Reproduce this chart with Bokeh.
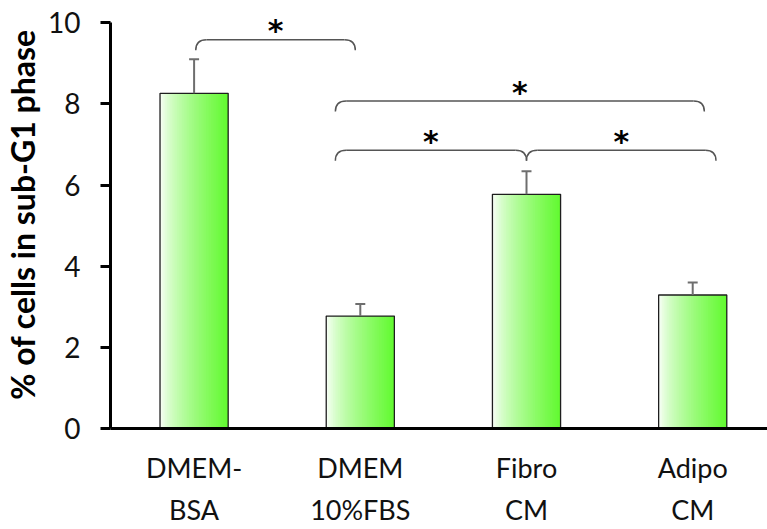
import numpy as np
from bokeh.plotting import figure
from bokeh.models import Range1d, FixedTicker
from bokeh.embed import file_html
from bokeh.resources import INLINE
from bokeh.core.properties import value

# ---- data ----
categories = ["DMEM-\nBSA", "DMEM\n10%FBS", "Fibro\nCM", "Adipo\nCM"]
means = [8.26, 2.77, 5.77, 3.29]
errors = [0.84, 0.30, 0.57, 0.31]
y_ticks = [0, 2, 4, 6, 8, 10]

# significance brackets (x in category units, y in data units)
br_x0 = [0.01, 0.85, 0.85, 2.0]
br_x1 = [0.97, 3.07, 2.0, 3.14]
br_y = [9.58, 8.07, 6.86, 6.86]
br_label = ["*", "*", "*", "*"]

# ---- styling constants ----
FONT = "Lato"
BAR_W = 0.41
N_SLICES = 40
LEFT_RGB = np.array([255, 255, 255])
RIGHT_RGB = np.array([98, 250, 48])
CAP_HALF = 0.03
BR_DROP = 0.26
BR_RX = 0.065
BR_COLOR = "#555555"

p = figure(width=767, height=529,
           x_range=Range1d(-0.503, 3.45), y_range=Range1d(0, 10.548),
           output_backend="svg", toolbar_location=None,
           min_border_left=107, min_border_right=0,
           min_border_top=0, min_border_bottom=86)
p.outline_line_color = None
p.xgrid.visible = False
p.ygrid.visible = False
p.background_fill_color = "white"
p.border_fill_color = "white"

# ---- gradient bars ----
xs = np.arange(len(means))
l, r, t, b, c = [], [], [], [], []
sw = BAR_W / N_SLICES
for i, m in enumerate(means):
    x_left = xs[i] - BAR_W / 2
    for k in range(N_SLICES):
        fm = ((k + 0.5) / N_SLICES) ** 0.7
        rgb = (LEFT_RGB + (RIGHT_RGB - LEFT_RGB) * fm).astype(int)
        l.append(x_left + sw * k)
        r.append(min(x_left + sw * (k + 1.8), x_left + BAR_W))
        t.append(m)
        b.append(0)
        c.append("#%02x%02x%02x" % tuple(rgb))
p.quad(left=l, right=r, top=t, bottom=b, fill_color=c, line_color=None)
p.vbar(x=xs, top=means, width=BAR_W, bottom=0, fill_color=None,
       line_color="#1e1e1e", line_width=1.3)

# ---- error bars (upper only) ----
tops = [m + e for m, e in zip(means, errors)]
p.segment(x0=xs, y0=means, x1=xs, y1=tops, line_color="#6e6e6e", line_width=2)
p.segment(x0=xs - CAP_HALF, y0=tops, x1=xs + CAP_HALF, y1=tops,
          line_color="#6e6e6e", line_width=2)

# ---- brackets ----
for x0, x1, y in zip(br_x0, br_x1, br_y):
    p.quadratic(x0=[x0], y0=[y - BR_DROP], x1=[x0 + BR_RX], y1=[y],
                cx=[x0], cy=[y], line_color=BR_COLOR, line_width=1.5)
    p.segment(x0=[x0 + BR_RX], y0=[y], x1=[x1 - BR_RX], y1=[y],
              line_color=BR_COLOR, line_width=1.5)
    p.quadratic(x0=[x1 - BR_RX], y0=[y], x1=[x1], y1=[y - BR_DROP],
                cx=[x1], cy=[y], line_color=BR_COLOR, line_width=1.5)

star_x = [(a + bb) / 2 for a, bb in zip(br_x0, br_x1)]
star_y = [y + 0.22 for y in br_y]
p.text(x=star_x, y=star_y, text=br_label, text_font=value("DejaVu Sans"),
       text_font_style="bold", text_font_size="30px", text_color="black",
       text_align="center", text_baseline="middle")

# ---- axes ----
p.xaxis.ticker = FixedTicker(ticks=list(range(len(categories))))
p.xaxis.major_label_overrides = {i: c for i, c in enumerate(categories)}
p.xaxis.major_tick_out = 0
p.xaxis.major_tick_in = 0
p.xaxis.minor_tick_line_color = None
p.xaxis.axis_line_width = 3
p.xaxis.axis_line_color = "black"
p.xaxis.major_label_text_font = FONT
p.xaxis.major_label_text_font_size = "27px"
p.xaxis.major_label_text_color = "#111111"
p.xaxis.major_label_standoff = 22
p.xaxis.major_label_text_line_height = 1.3

p.yaxis.ticker = FixedTicker(ticks=y_ticks)
p.yaxis.bounds = (0, 10)
p.yaxis.major_tick_out = 10
p.yaxis.major_tick_in = 0
p.yaxis.major_tick_line_width = 3
p.yaxis.major_tick_line_color = "black"
p.yaxis.minor_tick_line_color = None
p.yaxis.axis_line_width = 3
p.yaxis.axis_line_color = "black"
p.yaxis.major_label_text_font = FONT
p.yaxis.major_label_text_font_size = "28px"
p.yaxis.major_label_text_color = "#111111"
p.yaxis.major_label_standoff = 20
p.yaxis.axis_label = "% of cells in sub-G1 phase"
p.yaxis.axis_label_text_font = FONT
p.yaxis.axis_label_text_font_style = "bold"
p.yaxis.axis_label_text_font_size = "32px"
p.yaxis.axis_label_text_color = "black"
p.yaxis.axis_label_standoff = 3

open("out.html", "w").write(file_html(p, INLINE))
